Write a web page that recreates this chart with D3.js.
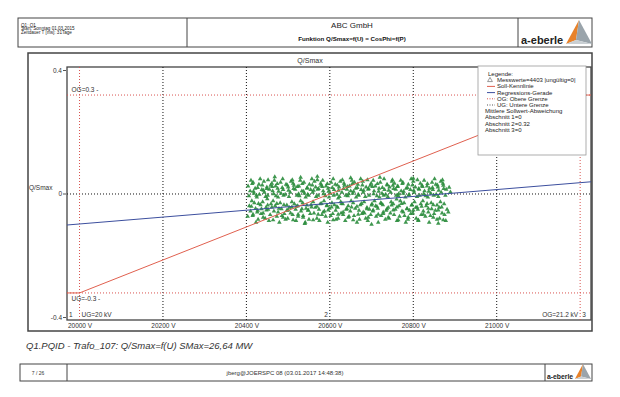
<!DOCTYPE html>
<html>
<head>
<meta charset="utf-8">
<script src="https://cdn.jsdelivr.net/npm/d3@7"></script>
<style>
    body { margin: 0; background: #fff; }
    #chart-area { width: 620px; height: 397px; }
    text { font-family: "Liberation Sans", Arial, sans-serif; }
</style>
</head>
<body>
<div id="chart-area"></div>
<script>

// header / footer texts
let headerLeft = ["Q1: Q1", "Start: Sonntag 01.03.2015", "Zeitdauer T [ms]: 31Tage"];
let company = "ABC GmbH";
let functionTitle = "Funktion Q/Smax=f(U) = CosPhi=f(P)";
let chartTitle = "Q/Smax";
let caption = "Q1.PQID - Trafo_107: Q/Smax=f(U) SMax=26,64 MW";
let footerPage = "7 / 26";
let footerUser = "jberg@JOERSPC 08 (03.01.2017 14:48:38)";

// axes
let uDomain = [19970, 21226];
let qDomain = [-0.382, 0.385];
let uTicks = [20000, 20200, 20400, 20600, 20800, 21000];
let qTicks = [-0.4, 0, 0.4];

// limits
let uLimits = [20000, 21200];
let qLimits = [0.3, -0.3];
let limitLabels = ["OG=0.3 -", "UG=-0.3 -", "UG=20 kV", "OG=21.2 kV"];
let sectionNames = ["1", "2", "3"];
let sectionAt = [19970, 20600, 21200];

// Soll-Kennlinie and Regressions-Gerade
let sollU = [19970, 20000, 21200, 21226];
let sollQ = [-0.3, -0.3, 0.3, 0.3];
let regU = [19970, 21226];
let regQ = [-0.094, 0.037];

let legendLines = ["Legende:", "Messwerte=4403 |ungültig=0|", "Soll-Kennlinie", "Regressions-Gerade",
    "OG: Obere Grenze", "UG: Untere Grenze", "Mittlere Sollwert-Abweichung",
    "Abschnitt 1=0", "Abschnitt 2=0.32", "Abschnitt 3=0"];

// Messwerte (read from the cloud, U in V, Q/Smax)
let measurements = [
    [20411,.041],[20404,.024],[20409,.009],[20406,-.006],[20413,-.021],[20407,-.036],[20410,-.052],[20403,-.068],
    [20416,.035],[20421,.017],[20418,.002],[20425,-.010],[20419,-.027],[20422,-.044],[20415,-.066],[20423,-.086],
    [20433,.046],[20430,.029],[20437,.013],[20431,-.001],[20434,-.033],[20427,-.050],[20435,-.060],[20428,-.077],
    [20442,.038],[20449,.021],[20443,.005],[20446,-.008],[20439,-.024],[20447,-.041],[20440,-.058],[20445,-.074],
    [20461,.032],[20455,.014],[20458,.026],[20451,-.004],[20459,-.030],[20452,-.047],[20457,-.063],[20454,-.081],
    [20467,.041],[20470,.024],[20463,.009],[20471,-.006],[20464,-.021],[20469,-.036],[20466,-.052],[20473,-.068],
    [20482,.035],[20475,.017],[20483,.002],[20476,-.010],[20481,-.027],[20478,-.044],[20485,-.066],[20479,-.086],
    [20487,.046],[20495,.029],[20488,.013],[20493,-.001],[20490,-.033],[20497,-.050],[20491,-.060],[20494,-.077],
    [20507,.038],[20500,.021],[20505,.005],[20502,-.008],[20509,-.024],[20503,-.041],[20506,-.058],[20499,-.074],
    [20512,.032],[20517,.014],[20514,.026],[20521,-.004],[20515,-.030],[20518,-.047],[20511,-.063],[20519,-.081],
    [20529,.041],[20526,.024],[20533,.009],[20527,-.006],[20530,-.021],[20523,-.036],[20531,-.052],[20524,-.068],
    [20538,.035],[20545,.017],[20539,.002],[20542,-.010],[20535,-.027],[20543,-.044],[20536,-.066],[20541,-.086],
    [20557,.046],[20551,.029],[20554,.013],[20547,-.001],[20555,-.033],[20548,-.050],[20553,-.060],[20550,-.077],
    [20563,.038],[20566,.021],[20559,.005],[20567,-.008],[20560,-.024],[20565,-.041],[20562,-.058],[20569,-.074],
    [20578,.032],[20571,.014],[20579,.026],[20572,-.004],[20577,-.030],[20574,-.047],[20581,-.063],[20575,-.081],
    [20583,.041],[20591,.024],[20584,.009],[20589,-.006],[20586,-.021],[20593,-.036],[20587,-.052],[20590,-.068],
    [20603,.035],[20596,.017],[20601,.002],[20598,-.010],[20605,-.027],[20599,-.044],[20602,-.066],[20595,-.086],
    [20608,.046],[20613,.029],[20610,.013],[20617,-.001],[20611,-.033],[20614,-.050],[20607,-.060],[20615,-.077],
    [20625,.038],[20622,.021],[20629,.005],[20623,-.008],[20626,-.024],[20619,-.041],[20627,-.058],[20620,-.074],
    [20634,.032],[20641,.014],[20635,.026],[20638,-.004],[20631,-.030],[20639,-.047],[20632,-.063],[20637,-.081],
    [20653,.041],[20647,.024],[20650,.009],[20643,-.006],[20651,-.021],[20644,-.036],[20649,-.052],[20646,-.068],
    [20659,.035],[20662,.017],[20655,.002],[20663,-.010],[20656,-.027],[20661,-.044],[20658,-.066],[20665,-.086],
    [20674,.046],[20667,.029],[20675,.013],[20668,-.001],[20673,-.033],[20670,-.050],[20677,-.060],[20671,-.077],
    [20679,.038],[20687,.021],[20680,.005],[20685,-.008],[20682,-.024],[20689,-.041],[20683,-.058],[20686,-.074],
    [20699,.032],[20692,.014],[20697,.026],[20694,-.004],[20701,-.030],[20695,-.047],[20698,-.063],[20691,-.081],
    [20704,.041],[20709,.024],[20706,.009],[20713,-.006],[20707,-.021],[20710,-.036],[20703,-.052],[20711,-.068],
    [20721,.035],[20718,.017],[20725,.002],[20719,-.010],[20722,-.027],[20715,-.044],[20723,-.066],[20716,-.086],
    [20730,.046],[20737,.029],[20731,.013],[20734,-.001],[20727,-.033],[20735,-.050],[20728,-.060],[20733,-.077],
    [20749,.038],[20743,.021],[20746,.005],[20739,-.008],[20747,-.024],[20740,-.041],[20745,-.058],[20742,-.074],
    [20755,.032],[20758,.014],[20751,.026],[20759,-.004],[20752,-.030],[20757,-.047],[20754,-.063],[20761,-.081],
    [20770,.041],[20763,.024],[20771,.009],[20764,-.006],[20769,-.021],[20766,-.036],[20773,-.052],[20767,-.068],
    [20775,.035],[20783,.017],[20776,.002],[20781,-.010],[20778,-.027],[20785,-.044],[20779,-.066],[20782,-.086],
    [20795,.046],[20788,.029],[20793,.013],[20790,-.001],[20797,-.033],[20791,-.050],[20794,-.060],[20787,-.077],
    [20800,.038],[20805,.021],[20802,.005],[20809,-.008],[20803,-.024],[20806,-.041],[20799,-.058],[20807,-.074],
    [20817,.032],[20814,.014],[20821,.026],[20815,-.004],[20818,-.030],[20811,-.047],[20819,-.063],[20812,-.081],
    [20826,.041],[20833,.024],[20827,.009],[20830,-.006],[20823,-.021],[20831,-.036],[20824,-.052],[20829,-.068],
    [20845,.035],[20839,.017],[20842,.002],[20835,-.010],[20843,-.027],[20836,-.044],[20841,-.066],[20838,-.086],
    [20851,.046],[20854,.029],[20847,.013],[20855,-.001],[20848,-.033],[20853,-.050],[20850,-.060],[20857,-.077],
    [20866,.038],[20859,.021],[20867,.005],[20860,-.008],[20865,-.024],[20862,-.041],[20869,-.058],[20863,-.074],
    [20871,.032],[20879,.014],[20872,.026],[20877,-.004],[20874,-.030],[20881,-.047],[20875,-.063],[20878,-.081],
    [20886,.020],[20884,-.055],[20889,.006],[20468,.052],[20530,.050],[20570,.053],[20650,.049],[20720,.050],
    [20800,.047],[20540,-.090],[20700,-.092],[20620,-.013],[20760,-.016],[20450,-.015],[20860,-.089],
    [20414,.031],[20417,.008],[20412,-.038],[20416,-.062],[20427,.019],[20424,-.004],[20429,-.029],[20426,-.055],
    [20438,.027],[20441,.011],[20436,-.045],[20440,-.071],[20452,.043],[20449,.016],[20451,-.034],[20448,-.049],
    [20462,.022],[20465,.000],[20461,-.040],[20464,-.079],[20474,.031],[20477,.008],[20473,-.029],[20476,-.055],
    [20486,.019],[20489,-.004],[20484,-.045],[20488,-.071],[20498,.027],[20501,.011],[20497,-.034],[20500,-.049],
    [20510,.043],[20513,.016],[20509,-.040],[20512,-.079],[20522,.022],[20525,.000],[20520,-.038],[20524,-.062],
    [20534,.031],[20537,.008],[20533,-.045],[20536,-.071],[20546,.019],[20549,-.004],[20545,-.034],[20548,-.049],
    [20558,.027],[20561,.011],[20556,-.040],[20560,-.079],[20570,.043],[20573,.016],[20569,-.038],[20572,-.062],
    [20582,.022],[20585,.000],[20580,-.029],[20584,-.055],[20594,.031],[20597,.008],[20593,-.034],[20596,-.049],
    [20606,.019],[20609,-.004],[20604,-.040],[20608,-.079],[20618,.027],[20621,.011],[20617,-.038],[20620,-.062],
    [20630,.043],[20633,.016],[20628,-.029],[20632,-.055],[20642,.022],[20645,.000],[20641,-.045],[20644,-.071],
    [20654,.031],[20657,.008],[20652,-.040],[20656,-.079],[20666,.019],[20669,-.004],[20665,-.038],[20668,-.062],
    [20678,.027],[20681,.011],[20676,-.029],[20680,-.055],[20690,.043],[20693,.016],[20689,-.045],[20692,-.071],
    [20702,.022],[20705,.000],[20700,-.034],[20704,-.049],[20714,.031],[20717,.008],[20713,-.038],[20716,-.062],
    [20726,.019],[20729,-.004],[20724,-.029],[20728,-.055],[20738,.027],[20741,.011],[20737,-.045],[20740,-.071],
    [20750,.043],[20753,.016],[20748,-.034],[20752,-.049],[20762,.022],[20765,.000],[20761,-.040],[20764,-.079],
    [20774,.031],[20777,.008],[20772,-.029],[20776,-.055],[20786,.019],[20789,-.004],[20785,-.045],[20788,-.071],
    [20798,.027],[20801,.011],[20796,-.034],[20800,-.049],[20810,.043],[20813,.016],[20809,-.040],[20812,-.079],
    [20822,.022],[20825,.000],[20820,-.038],[20824,-.062],[20834,.031],[20837,.008],[20833,-.029],[20836,-.055],
    [20846,.019],[20849,-.004],[20844,-.045],[20848,-.071],[20858,.027],[20861,.011],[20857,-.034],[20860,-.049],
    [20870,.043],[20873,.016],[20868,-.040],[20872,-.079]
];


class QSmaxVis {

    constructor(parentElement) {
        this.parentElement = parentElement;
        this.initVis();
    }

    initVis() {
        let vis = this;

        vis.width = 620;
        vis.height = 397;
        vis.plot = {left: 67, right: 591, top: 67, bottom: 320};

        vis.svg = d3.select("#" + vis.parentElement).append("svg")
            .attr("width", vis.width)
            .attr("height", vis.height);

        vis.x = d3.scaleLinear().domain(uDomain).range([vis.plot.left, vis.plot.right]);
        vis.y = d3.scaleLinear().domain(qDomain).range([vis.plot.bottom, vis.plot.top]);

        vis.drawHeader();
        vis.drawFooter();

        // outer chart frame
        vis.svg.append("rect")
            .attr("x", 28).attr("y", 53)
            .attr("width", 564).attr("height", 278)
            .attr("fill", "none").attr("stroke", "#444").attr("stroke-width", 1.5);

        vis.svg.append("text")
            .attr("x", 310).attr("y", 63)
            .attr("text-anchor", "middle")
            .attr("font-size", 7).attr("fill", "#333")
            .text(chartTitle);

        vis.wrangleData();
    }

    drawLogo(g, x, y, s) {
        g.append("text")
            .attr("x", x).attr("y", y)
            .attr("font-size", 11 * s).attr("font-weight", "bold").attr("fill", "#222")
            .text("a-eberle");
        let tx = x + 45 * s;
        g.append("path")
            .attr("d", `M${tx + 13 * s},${y - 24 * s} L${tx},${y} L${tx + 10 * s},${y - 4 * s} Z`)
            .attr("fill", "#e8822a");
        g.append("path")
            .attr("d", `M${tx + 13 * s},${y - 24 * s} L${tx + 10 * s},${y - 4 * s} L${tx + 26 * s},${y} Z`)
            .attr("fill", "#9aa4ab");
        g.append("path")
            .attr("d", `M${tx},${y} L${tx + 10 * s},${y - 4 * s} L${tx + 26 * s},${y} Z`)
            .attr("fill", "#c9cfd3");
    }

    drawHeader() {
        let vis = this;
        let g = vis.svg.append("g").attr("class", "header");

        g.append("rect")
            .attr("x", 18).attr("y", 18).attr("width", 574).attr("height", 29)
            .attr("fill", "none").attr("stroke", "#444").attr("stroke-width", 1);
        g.selectAll(".sep").data([187, 518]).enter().append("line")
            .attr("x1", d => d).attr("x2", d => d).attr("y1", 18).attr("y2", 47)
            .attr("stroke", "#444");

        g.selectAll(".hl").data(headerLeft).enter().append("text")
            .attr("x", 21).attr("y", (d, i) => 26.5 + i * 3.9)
            .attr("font-size", 4.6).attr("fill", "#222")
            .text(d => d);

        g.append("text")
            .attr("x", 352).attr("y", 28)
            .attr("text-anchor", "middle").attr("font-size", 8).attr("fill", "#222")
            .text(company);
        g.append("text")
            .attr("x", 352).attr("y", 40.5)
            .attr("text-anchor", "middle").attr("font-size", 6.2).attr("fill", "#111")
            .attr("font-weight", "bold")
            .text(functionTitle);

        vis.drawLogo(g, 521, 44, 1);
    }

    drawFooter() {
        let vis = this;
        let g = vis.svg.append("g").attr("class", "footer");

        vis.svg.append("text")
            .attr("x", 26).attr("y", 349)
            .attr("font-size", 9.5).attr("font-style", "italic").attr("fill", "#333")
            .text(caption);

        g.append("rect")
            .attr("x", 20).attr("y", 364).attr("width", 572).attr("height", 17)
            .attr("fill", "none").attr("stroke", "#444");
        g.selectAll(".sep").data([67, 545]).enter().append("line")
            .attr("x1", d => d).attr("x2", d => d).attr("y1", 364).attr("y2", 381)
            .attr("stroke", "#444");
        g.append("text")
            .attr("x", 38).attr("y", 374.5).attr("text-anchor", "middle")
            .attr("font-size", 5).attr("fill", "#333").text(footerPage);
        g.append("text")
            .attr("x", 285).attr("y", 374.5).attr("text-anchor", "middle")
            .attr("font-size", 6).attr("fill", "#333").text(footerUser);

        vis.drawLogo(g, 547, 379, 0.62);
    }

    wrangleData() {
        let vis = this;

        vis.soll = sollU.map((u, i) => ({u: u, q: sollQ[i]}));
        vis.reg = regU.map((u, i) => ({u: u, q: regQ[i]}));
        vis.points = measurements.map(d => ({u: d[0], q: d[1]}));

        vis.updateVis();
    }

    updateVis() {
        let vis = this;
        let p = vis.plot;

        // plot area
        vis.svg.append("rect")
            .attr("x", p.left).attr("y", p.top)
            .attr("width", p.right - p.left).attr("height", p.bottom - p.top)
            .attr("fill", "#fff").attr("stroke", "#444").attr("stroke-width", 1.3);

        // grid
        vis.svg.append("g").selectAll("line").data(uTicks.slice(1)).enter().append("line")
            .attr("x1", d => vis.x(d)).attr("x2", d => vis.x(d))
            .attr("y1", p.top).attr("y2", p.bottom)
            .attr("stroke", "#111").attr("stroke-dasharray", "1,2");
        vis.svg.append("line")
            .attr("x1", p.left).attr("x2", p.right)
            .attr("y1", vis.y(0)).attr("y2", vis.y(0))
            .attr("stroke", "#111").attr("stroke-dasharray", "1,2");

        // limit lines
        vis.svg.append("g").selectAll("line").data(uLimits).enter().append("line")
            .attr("x1", d => vis.x(d)).attr("x2", d => vis.x(d))
            .attr("y1", p.top).attr("y2", p.bottom)
            .attr("stroke", "#d9534f").attr("stroke-dasharray", "1,2");
        vis.svg.append("g").selectAll("line").data(qLimits).enter().append("line")
            .attr("x1", p.left).attr("x2", p.right)
            .attr("y1", d => vis.y(d)).attr("y2", d => vis.y(d))
            .attr("stroke", "#d9534f").attr("stroke-dasharray", "1,2");

        // axes - outer tick labels sit just inside the plot edges
        let yTick = d3.scaleLinear().domain([-0.4, 0.4]).range([p.bottom - 3, p.top + 3]);
        let yAxis = d3.axisLeft(yTick).tickValues(qTicks).tickSize(3).tickPadding(1).tickFormat(d => String(d));
        let yg = vis.svg.append("g")
            .attr("transform", `translate(${p.left - 1},0)`)
            .call(yAxis);
        yg.select(".domain").remove();
        yg.selectAll("text").attr("font-size", 6.5).attr("fill", "#333").attr("font-family", "Liberation Sans, Arial");
        yg.selectAll("line").attr("stroke", "#555");

        let xAxis = d3.axisBottom(vis.x).tickValues(uTicks).tickSize(0).tickPadding(3).tickFormat(d => d + " V");
        let xg = vis.svg.append("g")
            .attr("transform", `translate(0,${p.bottom})`)
            .call(xAxis);
        xg.select(".domain").remove();
        xg.selectAll("text").attr("font-size", 6.5).attr("fill", "#333").attr("font-family", "Liberation Sans, Arial");

        vis.svg.append("text")
            .attr("x", 29).attr("y", 190)
            .attr("font-size", 6.5).attr("fill", "#333")
            .text("Q/Smax");

        // scatter
        let tri = d3.symbol().type(d3.symbolTriangle).size(9);
        vis.svg.append("g").selectAll("path").data(vis.points).enter().append("path")
            .attr("d", tri)
            .attr("transform", d => `translate(${vis.x(d.u)},${vis.y(d.q)})`)
            .attr("fill", "#2a8c3c")
            .attr("opacity", 0.9);

        let line = d3.line().x(d => vis.x(d.u)).y(d => vis.y(d.q));

        vis.svg.append("path")
            .datum(vis.reg)
            .attr("d", line)
            .attr("fill", "none").attr("stroke", "#3c4f9e").attr("stroke-width", 1);

        vis.svg.append("path")
            .datum(vis.soll)
            .attr("d", line)
            .attr("fill", "none").attr("stroke", "#e0604f").attr("stroke-width", 1);

        // limit labels
        let lab = vis.svg.append("g").attr("font-size", 6.5).attr("fill", "#333");
        lab.append("text").attr("x", vis.x(uLimits[0]) - 8).attr("y", vis.y(qLimits[0]) - 3).text(limitLabels[0]);
        lab.append("text").attr("x", vis.x(uLimits[0]) - 8).attr("y", vis.y(qLimits[1]) + 8).text(limitLabels[1]);
        lab.append("text").attr("x", vis.x(uLimits[0]) + 2).attr("y", p.bottom - 3).text(limitLabels[2]);
        lab.append("text").attr("x", vis.x(uLimits[1]) - 2).attr("y", p.bottom - 3)
            .attr("text-anchor", "end").text(limitLabels[3]);

        // section numbers
        lab.selectAll(".sec").data(sectionNames).enter().append("text")
            .attr("x", (d, i) => vis.x(sectionAt[i]) + (i === 1 ? -2 : 2))
            .attr("y", p.bottom - 3)
            .attr("text-anchor", (d, i) => i === 1 ? "end" : "start")
            .text(d => d);

        vis.drawLegend();
    }

    drawLegend() {
        let vis = this;
        let g = vis.svg.append("g").attr("transform", "translate(478,66)");

        g.append("rect")
            .attr("width", 108).attr("height", 89)
            .attr("fill", "#fff").attr("stroke", "#999").attr("stroke-width", 0.8);

        let step = 6.2;
        g.selectAll("text").data(legendLines).enter().append("text")
            .attr("x", (d, i) => i === 0 ? 10 : (i <= 5 ? 19 : 7))
            .attr("y", (d, i) => 10 + i * step)
            .attr("font-size", 6).attr("fill", "#222")
            .text(d => d);

        g.append("path")
            .attr("d", d3.symbol().type(d3.symbolTriangle).size(10))
            .attr("transform", `translate(12,${8 + step})`)
            .attr("fill", "none").attr("stroke", "#555").attr("stroke-width", 0.6);

        let sym = [
            {c: "#e0604f", dash: null},
            {c: "#3c4f9e", dash: null},
            {c: "#d9534f", dash: "1,1.5"},
            {c: "#555", dash: "1,1.5"}
        ];
        g.selectAll(".sym").data(sym).enter().append("line")
            .attr("x1", 9).attr("x2", 17)
            .attr("y1", (d, i) => 8 + (i + 2) * step).attr("y2", (d, i) => 8 + (i + 2) * step)
            .attr("stroke", d => d.c).attr("stroke-dasharray", d => d.dash);
    }
}

new QSmaxVis("chart-area");
</script>
</body>
</html>
